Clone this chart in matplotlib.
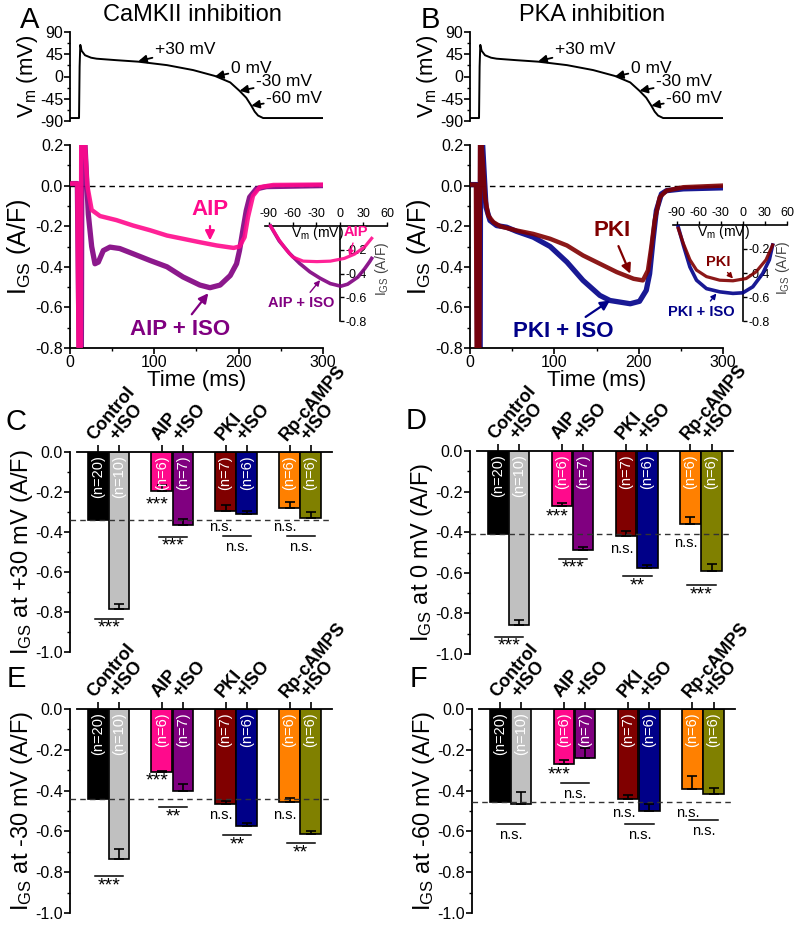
import numpy as np
import matplotlib
matplotlib.use("Agg")
import matplotlib.pyplot as plt
from matplotlib.ticker import MultipleLocator, FormatStrFormatter

plt.rcParams['font.family'] = ['Liberation Sans', 'DejaVu Sans']
plt.rcParams['mathtext.fontset'] = 'custom'
plt.rcParams['mathtext.rm'] = 'Liberation Sans'
plt.rcParams['mathtext.it'] = 'Liberation Sans:italic'
plt.rcParams['mathtext.bf'] = 'Liberation Sans:bold'
plt.rcParams['axes.unicode_minus'] = False
plt.rcParams['axes.linewidth'] = 1.3

# ---- colours
PINK = '#FF0A8C'
PURPLE = '#800080'
DRED = '#800000'
NAVY = '#000088'
ORANGE = '#FF8000'
OLIVE = '#808000'
GRAY = '#C0C0C0'

# ---- action potential command (same for A and B)
vm_t = [1, 10.7, 11.4, 12.2, 13.8, 17.8, 25, 31.6, 55, 81, 115, 146, 172, 190, 201, 209, 215, 219, 223, 229, 300]
vm_v = [-84, -84, 20, 64, 52, 43, 38, 36, 33, 30, 23, 13, 1, -12, -29, -43, -59, -71, -79, -84, -84]

# ---- current traces (ms, A/F)
aip_t = [0, 8.7, 10.3, 12.6, 13.4, 17.8, 20.5, 25.7, 35.6, 55, 75, 95, 115, 134, 154, 174, 194, 201, 207, 211, 217, 225, 241, 300]
aip_i = [0.01, 0.01, -0.9, -0.9, 0.3, 0.2, 0.0, -0.12, -0.15, -0.17, -0.197, -0.22, -0.246, -0.262, -0.279, -0.295,
         -0.307, -0.30, -0.254, -0.156, -0.05, -0.008, 0.003, 0.005]
aipiso_t = [0, 8.7, 11, 13.4, 14.2, 17.8, 21.7, 25.7, 29.6, 33.6, 39.5, 47.4, 59, 75, 95, 115, 134, 154, 166, 178,
            190, 197.5, 201, 205, 209, 213, 221, 233, 300]
aipiso_i = [0.01, 0.01, -0.9, -0.9, 0.3, 0.2, -0.14, -0.30, -0.385, -0.377, -0.32, -0.303, -0.31, -0.336, -0.369,
            -0.40, -0.45, -0.49, -0.503, -0.49, -0.443, -0.385, -0.32, -0.22, -0.123, -0.057, -0.016, -0.005, 0.0]
pki_t = [0, 7, 8, 11, 12, 13.8, 17.8, 21.7, 27.7, 35.6, 55, 75, 95, 115, 134, 154, 174, 194, 205, 211, 215, 219,
         225, 233, 253, 300]
pki_i = [0.005, 0.005, -0.9, -0.9, 0.3, 0.2, -0.057, -0.148, -0.18, -0.2, -0.221, -0.238, -0.262, -0.295, -0.344,
         -0.385, -0.426, -0.459, -0.467, -0.418, -0.303, -0.172, -0.057, -0.025, -0.008, 0.0]
pkiiso_t = [0, 8, 9, 12, 12.6, 15, 19, 23.7, 31.6, 43.5, 55, 75, 95, 115, 134, 154, 166, 190, 201, 209, 213, 217,
            221, 227, 233, 253, 300]
pkiiso_i = [0.005, 0.005, -0.9, -0.9, 0.3, 0.2, -0.107, -0.172, -0.197, -0.205, -0.225, -0.254, -0.30, -0.377,
            -0.467, -0.541, -0.566, -0.582, -0.57, -0.516, -0.434, -0.27, -0.123, -0.041, -0.025, -0.016, -0.011]

# ---- I-V insets (mV, A/F)
aip_iv_v = [-88, -77, -68, -60, -46.5, -29, -12, 5.7, 18.7, 31.8, 40.5]
aip_iv_i = [0.0, -0.118, -0.2, -0.26, -0.296, -0.30, -0.296, -0.273, -0.237, -0.175, -0.104]
aipiso_iv_v = [-88, -77, -64, -51, -38, -25, -12, 1.3, 10, 23, 31.8, 38, 40.5]
aipiso_iv_i = [0.0, -0.125, -0.23, -0.315, -0.386, -0.44, -0.485, -0.507, -0.49, -0.43, -0.358, -0.30, -0.273]
pki_iv_v = [-88, -81, -72, -63, -49.5, -31.5, -13.5, 4.5, 18, 31.5, 40.5]
pki_iv_i = [-0.028, -0.153, -0.29, -0.376, -0.43, -0.46, -0.465, -0.446, -0.39, -0.29, -0.167]
pkiiso_iv_v = [-88, -81, -72, -63, -49.5, -31.5, -13.5, 0, 13.5, 27, 36, 40.5]
pkiiso_iv_i = [-0.014, -0.167, -0.35, -0.46, -0.53, -0.557, -0.57, -0.565, -0.515, -0.404, -0.29, -0.167]

# ---- bar charts
bar_labels = ['Control', '+ISO', 'AIP', '+ISO', 'PKI', '+ISO', 'Rp-cAMPS', '+ISO']
n_labels = ['(n=20)', '(n=10)', '(n=6)', '(n=7)', '(n=7)', '(n=6)', '(n=6)', '(n=6)']
bar_colors = ['black', GRAY, PINK, PURPLE, DRED, NAVY, ORANGE, OLIVE]

c_mean = [-0.339, -0.784, -0.193, -0.366, -0.295, -0.308, -0.280, -0.331]
c_sem = [0.030, 0.024, 0.028, 0.029, 0.028, 0.012, 0.031, 0.030]
d_mean = [-0.408, -0.858, -0.273, -0.489, -0.417, -0.575, -0.359, -0.593]
d_sem = [0.020, 0.024, 0.016, 0.016, 0.023, 0.011, 0.036, 0.034]
e_mean = [-0.443, -0.736, -0.307, -0.400, -0.466, -0.572, -0.457, -0.613]
e_sem = [0.011, 0.051, 0.005, 0.033, 0.013, 0.013, 0.022, 0.017]
f_mean = [-0.454, -0.466, -0.269, -0.241, -0.443, -0.498, -0.393, -0.418]
f_sem = [0.013, 0.059, 0.021, 0.049, 0.019, 0.030, 0.065, 0.031]

# significance vs control (AIP, PKI, Rp) and within-pair (ctrl, AIP, PKI, Rp)
c_single = ['***', 'n.s.', 'n.s.']
c_single_y = [-0.267, -0.377, -0.377]
c_pair = ['***', '***', 'n.s.', 'n.s.']
c_pair_y = [-0.833, -0.423, -0.420, -0.420]
d_single = ['***', 'n.s.', 'n.s.']
d_single_y = [-0.327, -0.485, -0.452]
d_pair = ['***', '***', '**', '***']
d_pair_y = [-0.915, -0.531, -0.616, -0.660]
e_single = ['***', 'n.s.', 'n.s.']
e_single_y = [-0.352, -0.520, -0.520]
e_pair = ['***', '**', '**', '**']
e_pair_y = [-0.820, -0.482, -0.618, -0.659]
f_single = ['***', 'n.s.', 'n.s.']
f_single_y = [-0.323, -0.511, -0.508]
f_pair = ['n.s.', 'n.s.', 'n.s.', 'n.s.']
f_pair_y = [-0.564, -0.364, -0.564, -0.544]

fig = plt.figure(figsize=(8, 9.26), dpi=100)


def box(l, t, r, b):
    return [l / 800, 1 - b / 926, (r - l) / 800, (b - t) / 926]


def vm_panel(rect, title, letter):
    ax = fig.add_axes(rect)
    ax.plot(vm_t, vm_v, color='black', lw=1.4)
    ax.set_xlim(0, 300)
    ax.set_ylim(-90, 90)
    for s in ['top', 'right', 'bottom']:
        ax.spines[s].set_visible(False)
    ax.set_xticks([])
    ax.set_yticks([90, 45, 0, -45, -90])
    ax.yaxis.set_minor_locator(MultipleLocator(22.5))
    ax.tick_params(axis='y', which='major', labelsize=11.5, length=4, width=1.2, pad=1)
    ax.tick_params(axis='y', which='minor', length=2.5, width=1.0)
    ax.set_ylabel(r'$\mathregular{V_m}$ (mV)', fontsize=16, labelpad=0)
    arrows = [('+30 mV', (81, 31), (101, 54)), ('0 mV', (172, 0), (191, 16)),
              ('-30 mV', (201, -29), (221, -11)), ('-60 mV', (215, -59), (233, -44))]
    for txt, xy, xyt in arrows:
        ax.annotate(txt, xy=xy, xytext=xyt, fontsize=12.5, ha='left', va='center',
                    arrowprops=dict(arrowstyle='-|>', color='black', lw=1.3, mutation_scale=12,
                                    shrinkA=0, shrinkB=0))
    fig.text(rect[0] + 0.5 * rect[2] - 4 / 800, 1 - 15 / 926, title, fontsize=17, ha='center', va='center')
    fig.text(rect[0] - 40 / 800, 1 - 20 / 926, letter, fontsize=21, ha='center', va='center')
    return ax


def trace_panel(rect, t1, i1, c1, t2, i2, c2, lab1, lab2):
    ax = fig.add_axes(rect)
    ax.axhline(0, color='black', ls=(0, (4, 3)), lw=1.0, zorder=1)
    ax.plot(t2, i2, color=c2, lw=3.8, alpha=0.9, zorder=2)
    ax.plot(t1, i1, color=c1, lw=3.2, alpha=0.9, zorder=3)
    ax.set_xlim(0, 300)
    ax.set_ylim(-0.8, 0.2)
    for s in ['top', 'right']:
        ax.spines[s].set_visible(False)
    ax.set_xticks([0, 100, 200, 300])
    ax.xaxis.set_minor_locator(MultipleLocator(50))
    ax.yaxis.set_major_locator(MultipleLocator(0.2))
    ax.yaxis.set_minor_locator(MultipleLocator(0.1))
    ax.yaxis.set_major_formatter(FormatStrFormatter('%.1f'))
    ax.tick_params(which='major', labelsize=11.5, length=4, width=1.2, pad=1)
    ax.tick_params(which='minor', length=2.5, width=1.0)
    ax.set_xlabel('Time (ms)', fontsize=16, labelpad=0)
    ax.set_ylabel(r'$\mathregular{I_{GS}}$ (A/F)', fontsize=18, labelpad=2)
    for txt, xy, xyt, col in [lab1, lab2]:
        ax.annotate(txt, xy=xy, xytext=xyt, fontsize=16, fontweight='bold', color=col,
                    ha='center', va='center',
                    arrowprops=dict(arrowstyle='-|>', color=col, lw=1.6, mutation_scale=14,
                                    shrinkA=2, shrinkB=0))
    return ax


def iv_inset(rect, v1, i1, c1, v2, i2, c2, lab1, lab2):
    ax = fig.add_axes(rect)
    ax.patch.set_visible(False)
    ax.plot(v2, i2, color=c2, lw=2.6, alpha=0.9, clip_on=False, zorder=3)
    ax.plot(v1, i1, color=c1, lw=2.3, alpha=0.9, clip_on=False, zorder=4)
    ax.set_xlim(-95, 60)
    ax.set_ylim(-0.8, 0)
    ax.spines['left'].set_visible(False)
    ax.spines['bottom'].set_visible(False)
    ax.spines['right'].set_position(('data', 0))
    ax.spines['top'].set_linewidth(1.2)
    ax.spines['right'].set_linewidth(1.2)
    ax.xaxis.tick_top()
    ax.yaxis.tick_right()
    ax.set_xticks([-90, -60, -30, 0, 30, 60])
    ax.set_yticks([-0.2, -0.4, -0.6, -0.8])
    ax.yaxis.set_major_formatter(FormatStrFormatter('%.1f'))
    ax.tick_params(labelsize=9, length=3, width=1.0, pad=1)
    ax.text(-62, -0.06, r'$\mathregular{V_m}$ (mV)', fontsize=10, ha='left', va='center')
    ax.text(54, -0.36, r'$\mathregular{I_{GS}}$ (A/F)', fontsize=10, rotation=90, color='#444444',
            ha='center', va='center')
    for txt, xy, xyt, col in [lab1, lab2]:
        ax.annotate(txt, xy=xy, xytext=xyt, fontsize=10.5, fontweight='bold', color=col,
                    ha='center', va='center', zorder=5,
                    arrowprops=dict(arrowstyle='-|>', color=col, lw=1.0, mutation_scale=8,
                                    shrinkA=1, shrinkB=0))
    return ax


def bar_panel(rect, letter, ylabel, means, sems, single, single_y, pair, pair_y):
    ax = fig.add_axes(rect)
    g = np.repeat(np.arange(4), 2)
    x = g + np.tile([-0.165, 0.165], 4)
    ax.bar(x, means, width=0.32, color=bar_colors, edgecolor='black', linewidth=1.2, zorder=2)
    ax.errorbar(x, means, yerr=[np.zeros(8), sems], fmt='none', ecolor='black', elinewidth=1.2,
                capsize=3.5, capthick=1.2, zorder=3)
    ax.axhline(means[0], color='#333333', ls=(0, (4, 3)), lw=1.0, zorder=4)
    ax.set_xlim(-0.6, 3.5)
    ax.set_ylim(-1.0, 0.0)
    ax.spines['right'].set_visible(False)
    ax.spines['bottom'].set_visible(False)
    ax.spines['top'].set_bounds(-0.49, 3.5)
    ax.xaxis.tick_top()
    ax.set_xticks(x)
    ax.set_xticklabels(bar_labels, rotation=50, ha='left', va='bottom', rotation_mode='anchor',
                       fontweight='bold', fontsize=13)
    ax.tick_params(axis='x', length=5, width=1.2, pad=1)
    ax.yaxis.set_major_locator(MultipleLocator(0.2))
    ax.yaxis.set_minor_locator(MultipleLocator(0.1))
    ax.yaxis.set_major_formatter(FormatStrFormatter('%.1f'))
    ax.tick_params(axis='y', which='major', labelsize=11.5, length=4, width=1.2, pad=1)
    ax.tick_params(axis='y', which='minor', length=2.5, width=1.0)
    ax.set_ylabel(ylabel, fontsize=17, labelpad=0)
    for xi, lab in zip(x, n_labels):
        ax.text(xi, -0.015, lab, rotation=90, ha='center', va='top', color='white', fontsize=10.5, zorder=5)
    for k, (lab, yy) in enumerate(zip(single, single_y)):
        xs = x[2 + 2 * k] - 0.07
        fs = 14 if '*' in lab else 10.5
        ax.text(xs, yy, lab, ha='center', va='center', fontsize=fs, zorder=5)
    for k, (lab, yy) in enumerate(zip(pair, pair_y)):
        ax.plot([k - 0.21, k + 0.23], [yy, yy], color='black', lw=1.1, clip_on=False, zorder=5)
        if '*' in lab:
            ax.text(k + 0.01, yy - 0.005, lab, ha='center', va='top', fontsize=14)
        else:
            ax.text(k + 0.01, yy - 0.02, lab, ha='center', va='top', fontsize=10.5)
    fig.text(rect[0] - 54 / 800, rect[1] + rect[3] + 30 / 926, letter, fontsize=21, ha='center', va='center')
    return ax


# ---- panel A
vm_panel(box(70, 32, 323, 121), 'CaMKII inhibition', 'A')
trace_panel(box(70, 145, 323, 348), aip_t, aip_i, PINK, aipiso_t, aipiso_i, PURPLE,
            ('AIP', (166, -0.27), (166, -0.12), PINK), ('AIP + ISO', (164, -0.53), (130, -0.71), PURPLE))
iv_inset(box(265, 226, 387, 321), aip_iv_v, aip_iv_i, PINK, aipiso_iv_v, aipiso_iv_i, PURPLE,
         ('AIP', (12, -0.25), (21, -0.05), PINK), ('AIP + ISO', (-25, -0.456), (-49, -0.65), PURPLE))

# ---- panel B
vm_panel(box(470, 32, 723, 121), 'PKA inhibition', 'B')
trace_panel(box(470, 145, 723, 348), pki_t, pki_i, DRED, pkiiso_t, pkiiso_i, NAVY,
            ('PKI', (190, -0.434), (168, -0.22), DRED), ('PKI + ISO', (166, -0.566), (111, -0.72), NAVY))
iv_inset(box(673, 225, 787, 321), pki_iv_v, pki_iv_i, DRED, pkiiso_iv_v, pkiiso_iv_i, NAVY,
         ('PKI', (-13.5, -0.446), (-34, -0.306), DRED), ('PKI + ISO', (-36, -0.571), (-56, -0.724), NAVY))

# ---- panels C-F
bar_panel(box(70, 452, 332, 652), 'C', r'$\mathregular{I_{GS}}$ at +30 mV (A/F)', c_mean, c_sem,
          c_single, c_single_y, c_pair, c_pair_y)
bar_panel(box(470, 451, 733, 654), 'D', r'$\mathregular{I_{GS}}$ at 0 mV (A/F)', d_mean, d_sem,
          d_single, d_single_y, d_pair, d_pair_y)
bar_panel(box(70, 709, 332, 913), 'E', r'$\mathregular{I_{GS}}$ at -30 mV (A/F)', e_mean, e_sem,
          e_single, e_single_y, e_pair, e_pair_y)
bar_panel(box(472, 709, 735, 913), 'F', r'$\mathregular{I_{GS}}$ at -60 mV (A/F)', f_mean, f_sem,
          f_single, f_single_y, f_pair, f_pair_y)

fig.savefig('out.png', dpi=100)
